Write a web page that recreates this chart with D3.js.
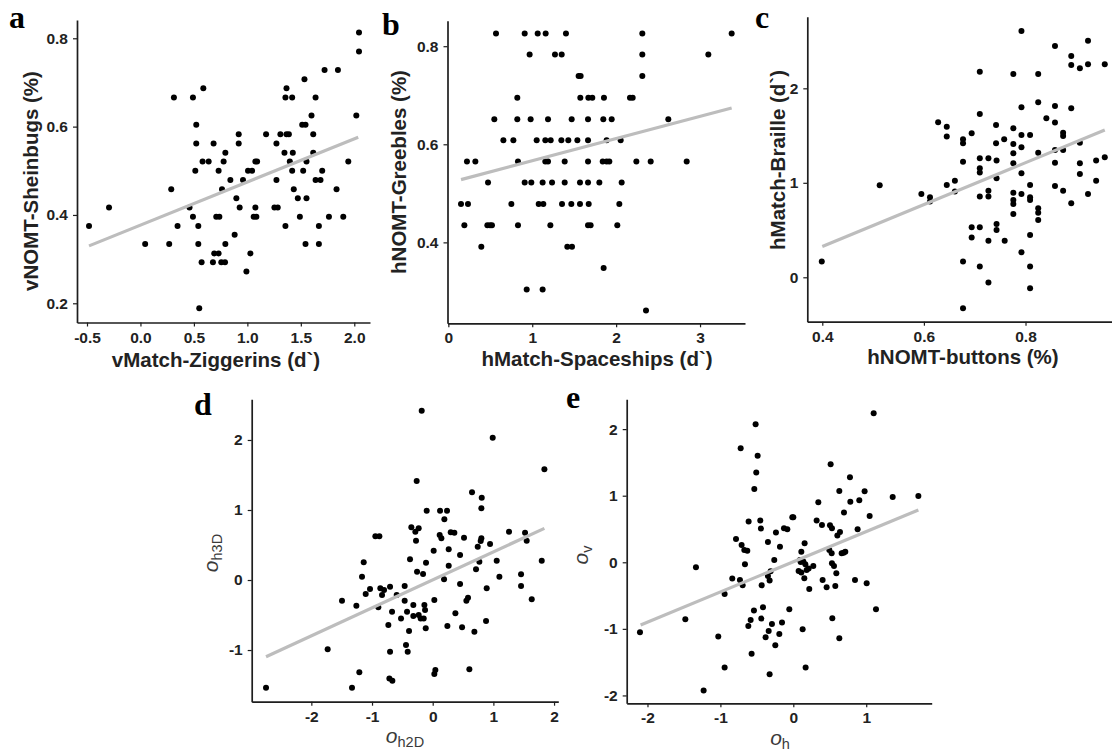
<!DOCTYPE html>
<html>
<head>
<meta charset="utf-8">
<script src="https://cdn.jsdelivr.net/npm/d3@7"></script>
<style>
  body { margin: 0; background: #fff; }
  svg { display: block; }
</style>
</head>
<body>
<svg id="fig" width="1112" height="752"></svg>
<script>
// ---- data ----
// a: vMatch-Ziggerins (d`) vs vNOMT-Sheinbugs (%)
const ptsA = [
  [-0.481,0.375],[-0.294,0.417],[0.044,0.334],[0.269,0.334],[0.288,0.458],[0.313,0.666],[0.347,0.375],
  [0.459,0.417],[0.491,0.666],[0.491,0.396],[0.513,0.500],[0.522,0.604],[0.522,0.562],[0.541,0.375],
  [0.541,0.334],[0.550,0.189],[0.572,0.293],[0.588,0.687],[0.581,0.521],[0.638,0.521],[0.684,0.562],
  [0.678,0.293],[0.690,0.313],[0.709,0.396],[0.731,0.500],[0.731,0.313],[0.738,0.396],[0.756,0.293],
  [0.763,0.458],[0.778,0.521],[0.794,0.541],[0.794,0.334],[0.791,0.293],[0.841,0.479],[0.881,0.355],
  [0.897,0.438],[0.919,0.562],[0.919,0.583],[0.928,0.417],[0.959,0.479],[0.991,0.272],[1.006,0.500],
  [1.028,0.313],[1.044,0.500],[1.059,0.396],[1.075,0.521],[1.075,0.417],[1.084,0.396],[1.091,0.521],
  [1.175,0.583],[1.253,0.417],[1.272,0.562],[1.272,0.479],[1.284,0.417],[1.309,0.583],[1.347,0.541],
  [1.356,0.375],[1.356,0.666],[1.366,0.687],[1.366,0.583],[1.388,0.583],[1.397,0.521],[1.419,0.666],
  [1.419,0.500],[1.425,0.541],[1.434,0.458],[1.472,0.438],[1.491,0.396],[1.513,0.604],[1.522,0.500],
  [1.534,0.707],[1.544,0.604],[1.544,0.334],[1.553,0.521],[1.553,0.438],[1.600,0.625],[1.616,0.583],
  [1.616,0.541],[1.638,0.666],[1.638,0.479],[1.669,0.375],[1.669,0.334],[1.684,0.479],[1.700,0.500],
  [1.722,0.728],[1.763,0.396],[1.834,0.458],[1.847,0.728],[1.897,0.396],[1.944,0.521],[2.019,0.625],
  [2.044,0.813],[2.044,0.770]
];
const fitA = [[-0.481,0.330],[2.037,0.576]];

// b: hMatch-Spaceships (d`) vs hNOMT-Greebles (%)
const ptsB = [
  [0.568,0.826],[0.910,0.826],[1.065,0.826],[1.160,0.826],[1.402,0.826],[2.312,0.826],[3.377,0.826],
  [0.969,0.783],[1.271,0.783],[1.351,0.783],[2.312,0.783],[3.099,0.783],
  [1.553,0.739],[1.577,0.739],[2.312,0.739],
  [0.822,0.695],[1.573,0.695],[1.669,0.695],[1.716,0.695],[1.855,0.695],[2.165,0.695],[2.197,0.695],
  [0.548,0.651],[0.822,0.651],[0.981,0.651],[1.188,0.651],[1.470,0.651],[1.665,0.651],[1.847,0.651],
  [1.947,0.651],[2.622,0.651],
  [0.656,0.608],[0.775,0.608],[1.053,0.608],[1.156,0.608],[1.220,0.608],[1.347,0.608],[1.430,0.608],
  [1.538,0.608],[1.665,0.608],[1.887,0.608],[2.054,0.608],
  [0.222,0.565],[0.322,0.565],[0.830,0.565],[1.156,0.565],[1.188,0.565],[1.387,0.565],[1.665,0.565],
  [1.840,0.565],[1.887,0.565],[1.919,0.565],[2.241,0.565],[2.412,0.565],[2.841,0.565],
  [0.473,0.522],[0.910,0.522],[0.989,0.522],[1.124,0.522],[1.236,0.522],[1.387,0.522],[1.569,0.522],
  [1.665,0.522],[1.800,0.522],[2.066,0.522],
  [0.151,0.478],[0.234,0.478],[0.751,0.478],[1.077,0.478],[1.132,0.478],[1.355,0.478],[1.466,0.478],
  [1.569,0.478],[1.673,0.478],[2.038,0.478],
  [0.191,0.435],[0.465,0.435],[0.497,0.435],[0.520,0.435],[0.830,0.435],[1.216,0.435],[1.665,0.435],
  [1.696,0.435],[2.014,0.435],
  [0.393,0.391],[1.418,0.391],[1.474,0.391],
  [1.851,0.348],
  [0.934,0.304],[1.124,0.304],
  [2.356,0.261]
];
const fitB = [[0.151,0.528],[3.377,0.674]];

// c: hNOMT-buttons (%) vs hMatch-Braille (d`)
const ptsC = [
  [0.399,0.166],[0.513,0.975],[0.595,0.882],[0.612,0.847],[0.612,0.801],[0.628,1.640],[0.645,1.594],
  [0.645,1.489],[0.645,0.977],[0.661,1.023],[0.661,0.907],[0.677,1.460],[0.677,1.418],[0.677,1.224],
  [0.677,0.166],[0.677,-0.328],[0.694,1.524],[0.694,0.529],[0.694,0.420],[0.710,2.176],[0.710,1.728],
  [0.710,1.259],[0.710,1.153],[0.710,1.108],[0.710,0.854],[0.710,0.529],[0.710,0.113],[0.727,1.259],
  [0.727,0.917],[0.727,0.854],[0.727,0.388],[0.727,-0.056],[0.742,1.612],[0.742,1.418],[0.743,1.235],
  [0.743,1.048],[0.743,0.564],[0.743,0.501],[0.758,1.460],[0.759,0.388],[0.776,2.152],[0.776,1.577],
  [0.776,1.411],[0.776,1.312],[0.776,1.206],[0.776,0.896],[0.776,0.818],[0.776,0.776],[0.776,0.670],
  [0.792,2.607],[0.792,1.799],[0.792,1.506],[0.792,1.376],[0.792,1.101],[0.792,0.882],[0.792,0.265],
  [0.809,1.506],[0.809,0.977],[0.809,0.847],[0.809,0.818],[0.809,0.448],[0.809,0.113],[0.809,-0.116],
  [0.825,2.152],[0.825,1.852],[0.825,1.319],[0.825,0.730],[0.825,0.684],[0.825,0.607],[0.841,1.683],
  [0.858,2.448],[0.858,1.813],[0.858,1.637],[0.858,1.347],[0.858,1.213],[0.858,0.966],[0.874,1.531],
  [0.874,1.496],[0.874,1.347],[0.874,0.917],[0.890,2.342],[0.890,2.247],[0.890,1.788],[0.890,0.783],
  [0.907,2.212],[0.907,1.425],[0.907,1.206],[0.907,1.093],[0.923,2.504],[0.923,2.254],[0.923,0.882],
  [0.939,1.235],[0.939,1.023],[0.956,2.254],[0.956,1.270]
];
const fitC = [[0.400,0.325],[0.956,1.559]];

// d: o_h2D vs o_h3D
const ptsD = [
  [-2.747,-1.538],[-1.731,-0.990],[-1.495,-0.295],[-1.258,-0.367],[-1.209,-1.319],[-1.330,-1.538],
  [-1.137,0.252],[-1.165,0.048],[-1.104,-0.200],[-1.033,-0.129],[-0.945,0.624],[-0.879,0.624],
  [-0.896,-0.390],[-0.863,-0.119],[-0.835,-0.214],[-0.802,-0.143],[-0.703,-0.095],[-0.731,-0.643],
  [-0.703,-1.024],[-0.714,-1.405],[-0.665,-1.438],[-0.670,-0.452],[-0.593,-0.214],[-0.522,-0.548],
  [-0.462,-0.086],[-0.462,-0.295],[-0.440,-0.929],[-0.412,-1.024],[-0.423,-0.452],[-0.390,-0.729],
  [-0.374,0.295],[-0.352,0.752],[-0.319,-0.357],[-0.319,-0.514],[-0.286,0.690],[-0.275,0.562],
  [-0.264,1.414],[-0.258,0.119],[-0.231,0.738],[-0.231,-0.500],[-0.198,-0.548],[-0.181,2.419],
  [-0.159,0.086],[-0.148,-0.548],[-0.137,-0.357],[-0.126,-0.429],[-0.115,-0.690],[-0.110,0.248],
  [-0.099,0.990],[0.016,0.419],[0.027,-1.343],[0.044,-1.286],[0.027,-0.286],[0.121,0.990],
  [0.115,0.643],[0.143,0.595],[0.187,0.010],[0.192,0.867],[0.236,0.990],[0.242,-0.657],
  [0.264,0.438],[0.264,0.205],[0.297,0.681],[0.357,0.676],[0.451,-0.057],[0.451,0.357],
  [0.374,-0.476],[0.484,-0.676],[0.516,0.605],[0.555,-0.295],[0.582,-0.252],[0.604,-1.276],
  [0.648,1.252],[0.687,-0.738],[0.714,0.152],[0.742,0.476],[0.769,0.262],[0.808,1.176],
  [0.802,1.024],[0.802,0.595],[0.791,0.557],[0.879,-0.586],[0.890,-0.119],[0.945,0.514],
  [0.989,2.033],[1.055,0.276],[1.099,0.048],[1.258,0.690],[1.456,0.081],[1.456,-0.086],
  [1.522,0.676],[1.549,0.562],[1.632,-0.276],[1.797,0.276],[1.841,1.581]
];
const fitD = [[-2.747,-1.095],[1.841,0.738]];

// e: o_h vs o_v
const ptsE = [
  [-2.103,-1.051],[-1.481,-0.856],[-1.335,-0.075],[-1.230,-1.927],[-1.029,-1.116],[-0.942,-0.476],
  [-0.942,-1.582],[-0.837,-0.245],[-0.786,0.350],[-0.732,-0.265],[-0.722,1.712],[-0.709,0.260],
  [-0.695,-0.345],[-0.672,0.185],[-0.663,-0.030],[-0.631,0.175],[-0.613,0.611],[-0.617,-0.956],
  [-0.585,-0.866],[-0.572,-1.372],[-0.540,-0.726],[-0.535,1.101],[-0.517,2.073],[-0.508,1.347],
  [-0.489,1.602],[-0.453,0.626],[-0.444,0.506],[-0.434,-0.345],[-0.439,-0.846],[-0.416,-0.676],
  [-0.380,-1.126],[-0.348,0.305],[-0.348,-0.205],[-0.338,-1.031],[-0.325,-1.682],[-0.325,-0.275],
  [-0.311,-0.135],[-0.293,-0.926],[-0.261,0.035],[-0.247,-1.247],[-0.238,0.446],[-0.192,-1.076],
  [-0.183,0.235],[-0.155,-0.906],[-0.128,0.511],[-0.082,0.496],[-0.055,-0.706],[-0.014,0.676],
  [0.000,0.676],[0.073,-0.130],[0.091,0.035],[0.101,0.005],[0.110,0.160],[0.110,-0.155],
  [0.128,-1.006],[0.137,0.010],[0.151,-0.240],[0.155,0.285],[0.165,-0.030],[0.169,-1.582],
  [0.183,-0.115],[0.210,-0.095],[0.219,-0.400],[0.274,-0.055],[0.320,0.626],[0.343,0.901],
  [0.393,0.561],[0.402,-0.265],[0.457,-0.375],[0.494,0.185],[0.503,0.556],[0.512,1.472],
  [0.526,0.135],[0.530,0.511],[0.530,-0.015],[0.535,-0.841],[0.558,-0.055],[0.576,-0.355],
  [0.590,-0.165],[0.604,0.401],[0.631,1.071],[0.631,-1.141],[0.640,0.456],[0.663,0.135],
  [0.690,0.145],[0.695,0.746],[0.713,0.160],[0.777,1.277],[0.782,0.911],[0.846,-0.265],
  [0.882,0.496],[0.905,0.931],[0.978,1.066],[1.006,-0.315],[1.047,0.696],[1.102,2.238],
  [1.134,-0.706],[1.363,0.981],[1.715,0.996]
];
const fitE = [[-2.094,-0.941],[1.715,0.786]];

// tick values and labels
const xTickA = [-0.5, 0, 0.5, 1, 1.5, 2], xLabA = ['-0.5','0.0','0.5','1.0','1.5','2.0'];
const yTickA = [0.2, 0.4, 0.6, 0.8],       yLabA = ['0.2','0.4','0.6','0.8'];
const xTickB = [0, 1, 2, 3],               xLabB = ['0','1','2','3'];
const yTickB = [0.4, 0.6, 0.8],            yLabB = ['0.4','0.6','0.8'];
const xTickC = [0.4, 0.6, 0.8],            xLabC = ['0.4','0.6','0.8'];
const yTickC = [0, 1, 2],                  yLabC = ['0','1','2'];
const xTickD = [-2, -1, 0, 1, 2],          xLabD = ['-2','-1','0','1','2'];
const yTickD = [-1, 0, 1, 2],              yLabD = ['-1','0','1','2'];
const xTickE = [-2, -1, 0, 1],             xLabE = ['-2','-1','0','1'];
const yTickE = [-2, -1, 0, 1, 2],          yLabE = ['-2','-1','0','1','2'];

// ---- layout ----
const panels = [
  {tag:'a', pts:ptsA, fit:fitA, xt:xTickA, xl:xLabA, yt:yTickA, yl:yLabA,
   xd:[-0.5935,2.147], xr:[77,370], yd:[0.1565,0.8414], yr:[322.5,20],
   tagPos:[9,28], xTitle:'vMatch-Ziggerins (d`)', yTitle:'vNOMT-Sheinbugs (%)',
   xtPos:[216,367], ytPos:[38,181]},
  {tag:'b', pts:ptsB, fit:fitB, xt:xTickB, xl:xLabB, yt:yTickB, yl:yLabB,
   xd:[-0.01,3.536], xr:[447.5,745], yd:[0.235,0.852], yr:[323.3,20.7],
   tagPos:[382,35], xTitle:'hMatch-Spaceships (d`)', yTitle:'hNOMT-Greebles (%)',
   xtPos:[597,366], ytPos:[406,172]},
  {tag:'c', pts:ptsC, fit:fitC, xt:xTickC, xl:xLabC, yt:yTickC, yl:yLabC,
   xd:[0.3705,0.984], xr:[807.3,1119], yd:[-0.470,2.758], yr:[321.7,16.7],
   tagPos:[755,28], xTitle:'hNOMT-buttons (%)', yTitle:'hMatch-Braille (d`)',
   xtPos:[963,364], ytPos:[785,160]},
  {tag:'d', pts:ptsD, fit:fitD, xt:xTickD, xl:xLabD, yt:yTickD, yl:yLabD,
   xd:[-2.983,2.070], xr:[251.7,558.3], yd:[-1.738,2.581], yr:[701.7,399.3],
   tagPos:[194,415], xSym:'h2D', ySym:'h3D',
   xtPos:[405,743], ytPos:[218,553]},
  {tag:'e', pts:ptsE, fit:fitE, xt:xTickE, xl:xLabE, yt:yTickE, yl:yLabE,
   xd:[-2.285,1.898], xr:[626.7,931.7], yd:[-2.118,2.448], yr:[703.3,399.3],
   tagPos:[566,408], xSym:'h', ySym:'v',
   xtPos:[780,745], ytPos:[588,555]}
];

const svg = d3.select('#fig');
const sans = '"Liberation Sans", Arial, Helvetica, sans-serif';

function styleAxis(sel) {
  sel.select('.domain').attr('stroke', '#1e1e1e').attr('stroke-width', 1.7);
  sel.selectAll('.tick line').attr('stroke', '#1e1e1e').attr('stroke-width', 1.2);
  sel.selectAll('.tick text')
    .attr('fill', '#222')
    .style('font-family', sans)
    .style('font-size', '15.5px')
    .style('font-weight', 'bold');
}

function symbolTitle(g, pos, sub, rotate) {
  const t = g.append('text')
    .attr('transform', `translate(${pos[0]},${pos[1]})` + (rotate ? ' rotate(-90)' : ''))
    .attr('text-anchor', 'middle')
    .attr('fill', '#3a3a3a')
    .style('font-family', sans);
  t.append('tspan').text('o').style('font-size', '21px').style('font-style', 'italic');
  t.append('tspan').text(sub).attr('dy', 4).style('font-size', '14.5px');
}

panels.forEach(p => {
  const x = d3.scaleLinear().domain(p.xd).range(p.xr);
  const y = d3.scaleLinear().domain(p.yd).range(p.yr);
  const g = svg.append('g');

  g.append('g')
    .attr('transform', `translate(0,${p.yr[0]})`)
    .call(d3.axisBottom(x).tickValues(p.xt).tickFormat((d, i) => p.xl[i])
      .tickSize(4).tickSizeOuter(0).tickPadding(5))
    .call(styleAxis);

  g.append('g')
    .attr('transform', `translate(${p.xr[0]},0)`)
    .call(d3.axisLeft(y).tickValues(p.yt).tickFormat((d, i) => p.yl[i])
      .tickSize(4).tickSizeOuter(0).tickPadding(5))
    .call(styleAxis);

  //points
  g.append('g').selectAll('circle')
    .data(p.pts)
    .join('circle')
    .attr('cx', d => x(d[0]))
    .attr('cy', d => y(d[1]))
    .attr('r', 3)
    .attr('fill', '#000');

  //fit line
  g.append('path')
    .datum(p.fit)
    .attr('d', d3.line().x(d => x(d[0])).y(d => y(d[1])))
    .attr('fill', 'none')
    .attr('stroke', '#bdbdbd')
    .attr('stroke-width', 3.2);

  // titles
  if (p.xTitle) {
    g.append('text')
      .attr('x', p.xtPos[0]).attr('y', p.xtPos[1])
      .attr('text-anchor', 'middle')
      .attr('fill', '#222')
      .style('font-family', sans).style('font-size', '20.5px').style('font-weight', 'bold')
      .text(p.xTitle);
    g.append('text')
      .attr('transform', `translate(${p.ytPos[0]},${p.ytPos[1]}) rotate(-90)`)
      .attr('text-anchor', 'middle')
      .attr('fill', '#222')
      .style('font-family', sans).style('font-size', '20.5px').style('font-weight', 'bold')
      .text(p.yTitle);
  } else {
    symbolTitle(g, p.xtPos, p.xSym, false);
    symbolTitle(g, p.ytPos, p.ySym, true);
  }

  // panel letter
  g.append('text')
    .attr('x', p.tagPos[0]).attr('y', p.tagPos[1])
    .attr('fill', '#000')
    .style('font-family', '"Liberation Serif", "Times New Roman", serif')
    .style('font-size', '32px').style('font-weight', 'bold')
    .text(p.tag);
});
</script>
</body>
</html>
